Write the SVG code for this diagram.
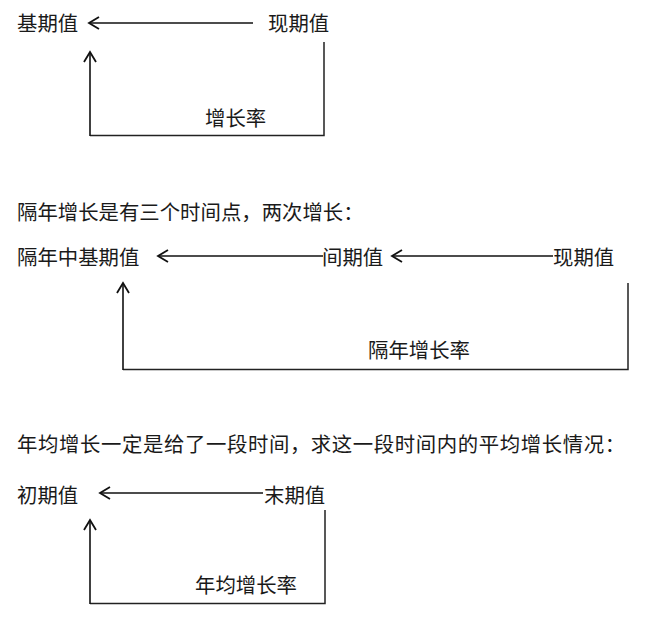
<svg xmlns="http://www.w3.org/2000/svg" width="653" height="633" viewBox="0 0 653 633">
<style>
text{font-family:"Noto Sans CJK SC","Noto Sans CJK JP",sans-serif;font-size:20.4px;fill:#1a1a1a}
.ln{stroke:#222;stroke-width:1.5;fill:none}
.ar{stroke:#111;stroke-width:1.6;fill:none}
</style>
<defs>
<marker id="ah" markerUnits="userSpaceOnUse" markerWidth="14" markerHeight="14" refX="11" refY="6" orient="auto" overflow="visible">
<path d="M1,0 L11,6 L1,12" fill="none" stroke="#111" stroke-width="1.8"/>
</marker>
</defs>
<rect width="653" height="633" fill="#fff"/>

<g id="connectors">
<line class="ar" x1="253" y1="23" x2="89" y2="23" marker-end="url(#ah)"/>
<polyline class="ln" points="324,42 324,135.5 90,135.5"/>
<line class="ar" x1="90" y1="136" x2="90" y2="52" marker-end="url(#ah)"/>

<line class="ar" x1="323" y1="256" x2="158" y2="256" marker-end="url(#ah)"/>
<line class="ar" x1="553" y1="256" x2="392" y2="256" marker-end="url(#ah)"/>
<polyline class="ln" points="628,283 628,369.5 123,369.5"/>
<line class="ar" x1="123" y1="370" x2="123" y2="283" marker-end="url(#ah)"/>

<line class="ar" x1="263" y1="493" x2="100" y2="493" marker-end="url(#ah)"/>
<polyline class="ln" points="325,510 325,603.5 90,603.5"/>
<line class="ar" x1="90" y1="604" x2="90" y2="520" marker-end="url(#ah)"/>
</g>

<g id="n-base1"><text x="17" y="31">基期值</text></g>
<g id="n-cur1"><text x="268" y="31">现期值</text></g>
<g id="n-rate1"><text x="205" y="126">增长率</text></g>

<g id="h2"><text x="17" y="220">隔年增长是有三个时间点，两次增长：</text></g>
<g id="n-base2"><text x="17" y="265">隔年中基期值</text></g>
<g id="n-mid2"><text x="322" y="265">间期值</text></g>
<g id="n-cur2"><text x="553" y="265">现期值</text></g>
<g id="n-rate2"><text x="368" y="358">隔年增长率</text></g>

<g id="h3"><text x="17" y="452" letter-spacing="0.6">年均增长一定是给了一段时间，求这一段时间内的平均增长情况：</text></g>
<g id="n-init3"><text x="17" y="503">初期值</text></g>
<g id="n-end3"><text x="264" y="503">末期值</text></g>
<g id="n-rate3"><text x="195" y="593">年均增长率</text></g>
</svg>
